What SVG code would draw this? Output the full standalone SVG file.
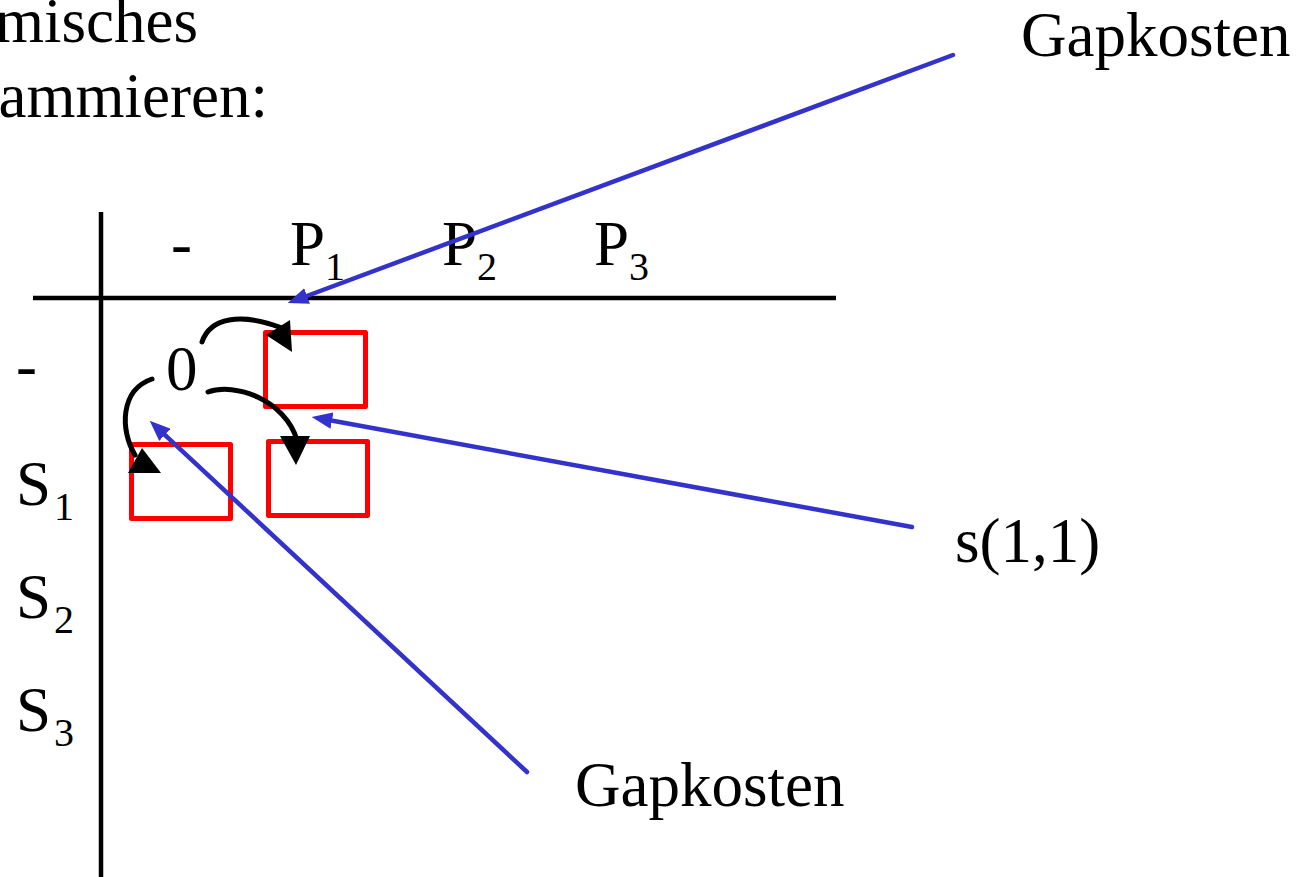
<svg xmlns="http://www.w3.org/2000/svg" width="1301" height="877" viewBox="0 0 1301 877">
<style>
.axis{stroke:#000;stroke-width:4.5;fill:none}
.box{fill:none;stroke:#FF0000;stroke-width:5;stroke-linejoin:round}
.curve{fill:none;stroke:#000;stroke-width:5;stroke-linecap:round}
.head{fill:#000}
.blue{fill:none;stroke:#3333CC;stroke-width:4.5;stroke-linecap:round}
</style>
<defs>
<marker id="bh" viewBox="0 0 10 8" markerWidth="4.6" markerHeight="3.7" refX="5" refY="4" orient="auto" markerUnits="strokeWidth">
<path d="M0,0 L10,4 L0,8 Z" fill="#3333CC"/>
</marker>
</defs>
<rect width="1301" height="877" fill="#fff"/>
<g id="title">
<text x="198" y="42" text-anchor="end" font-family="Liberation Serif" font-size="63">misches</text>
<text x="268" y="117" text-anchor="end" font-family="Liberation Serif" font-size="63">ammieren:</text>
</g>
<g id="axes">
<line class="axis" x1="101" y1="212" x2="101" y2="877"/>
<line class="axis" x1="33" y1="298" x2="836" y2="298"/>
</g>
<g id="col-labels">
<text x="171" y="265" font-family="Liberation Serif" font-size="63">-</text>
<text x="290" y="265" font-family="Liberation Serif" font-size="63">P<tspan font-size="40" dy="15">1</tspan></text>
<text x="442" y="265" font-family="Liberation Serif" font-size="63">P<tspan font-size="40" dy="15">2</tspan></text>
<text x="594" y="265" font-family="Liberation Serif" font-size="63">P<tspan font-size="40" dy="15">3</tspan></text>
</g>
<g id="row-labels">
<text x="16" y="387" font-family="Liberation Serif" font-size="63">-</text>
<text x="16" y="505" font-family="Liberation Serif" font-size="63">S<tspan font-size="40" dy="15" dx="3">1</tspan></text>
<text x="16" y="618" font-family="Liberation Serif" font-size="63">S<tspan font-size="40" dy="15" dx="3">2</tspan></text>
<text x="16" y="731" font-family="Liberation Serif" font-size="63">S<tspan font-size="40" dy="15" dx="3">3</tspan></text>
</g>
<g id="cell-0">
<text x="166" y="390" font-family="Liberation Serif" font-size="63">0</text>
</g>
<g id="cell-0-1"><rect class="box" x="265.5" y="332.5" width="100" height="74"/></g>
<g id="cell-1-0"><rect class="box" x="131.5" y="444.5" width="99" height="74"/></g>
<g id="cell-1-1"><rect class="box" x="268.5" y="441.5" width="99" height="74"/></g>
<g id="label-gap-top"><text x="1021" y="56" font-family="Liberation Serif" font-size="63">Gapkosten</text></g>
<g id="label-s11"><text x="955" y="562" font-family="Liberation Serif" font-size="63">s(1,1)</text></g>
<g id="label-gap-bottom"><text x="575" y="806" font-family="Liberation Serif" font-size="63">Gapkosten</text></g>
<g id="connectors">
<path class="curve" d="M202,342 C210,318 240,312 282,328"/>
<polygon class="head" points="266,335 290,320 292,352"/>
<path class="curve" d="M208,392 C235,382 285,400 297,440"/>
<polygon class="head" points="280,436 310,436 296,465"/>
<path class="curve" d="M152,379 C120,390 120,430 135,455"/>
<polygon class="head" points="128,473 161,473 142,448"/>
<line class="blue" x1="953" y1="55" x2="297.4" y2="299.5" marker-end="url(#bh)"/>
<line class="blue" x1="912" y1="527" x2="321.8" y2="418.8" marker-end="url(#bh)"/>
<line class="blue" x1="527" y1="772" x2="157.3" y2="427.8" marker-end="url(#bh)"/>
</g>
</svg>
